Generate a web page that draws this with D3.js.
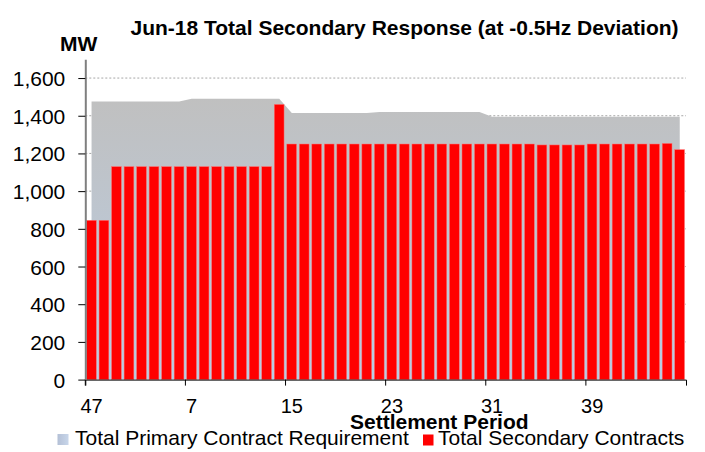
<!DOCTYPE html>
<html>
<head>
<meta charset="utf-8">
<script src="https://cdn.jsdelivr.net/npm/d3@7"></script>
<style>
  body { margin: 0; background: #fff; }
  text { font-family: "Liberation Sans", Arial, sans-serif; fill: #000; }
</style>
</head>
<body>
<div id="chart"></div>
<script>
// settlement periods shown (day starts at 47)
var periods = [47, 48, 1, 2, 3, 4, 5, 6, 7, 8, 9, 10, 11, 12, 13, 14, 15, 16, 17, 18, 19, 20,
  21, 22, 23, 24, 25, 26, 27, 28, 29, 30, 31, 32, 33, 34, 35, 36, 37, 38, 39, 40,
  41, 42, 43, 44, 45, 46];

// total primary contract requirement (MW)
var primaryReq = [1475, 1475, 1475, 1475, 1475, 1475, 1475, 1475, 1490, 1490, 1490, 1490,
  1490, 1490, 1490, 1490, 1415, 1415, 1415, 1415, 1415, 1415, 1415, 1420, 1420, 1420,
  1420, 1420, 1420, 1420, 1420, 1420, 1395, 1395, 1395, 1395, 1395, 1395, 1395, 1395,
  1395, 1395, 1395, 1395, 1395, 1395, 1395, 1395];

// total secondary contracts (MW)
var secondary = [845, 845, 1130, 1130, 1130, 1130, 1130, 1130, 1130, 1130, 1130, 1130,
  1130, 1130, 1130, 1460, 1250, 1250, 1250, 1250, 1250, 1250, 1250, 1250, 1250, 1250,
  1250, 1250, 1250, 1250, 1250, 1250, 1250, 1250, 1250, 1250, 1245, 1245, 1245, 1245,
  1250, 1250, 1250, 1250, 1250, 1250, 1253, 1220];

var xTickLabels = [47, 7, 15, 23, 31, 39];
var yTicks = [0, 200, 400, 600, 800, 1000, 1200, 1400, 1600];

var width = 705, height = 452;
var plot = { left: 85.3, right: 686, top: 59.2, bottom: 379.6 };

var data = periods.map(function (p, i) {
  return { period: p, req: primaryReq[i], sec: secondary[i] };
});

var svg = d3.select('#chart').append('svg')
  .attr('width', width)
  .attr('height', height);

var x = d3.scaleBand()
  .domain(periods)
  .range([plot.left, plot.right])
  .padding(0);

var y = d3.scaleLinear()
  .domain([0, 1700])
  .range([plot.bottom, plot.top]);

// gradient for the requirement area
var defs = svg.append('defs');
var grad = defs.append('linearGradient')
  .attr('id', 'areaGrad')
  .attr('gradientUnits', 'userSpaceOnUse')
  .attr('x1', 0).attr('x2', 0)
  .attr('y1', y(1490)).attr('y2', y(0));
grad.append('stop').attr('offset', '0%').attr('stop-color', '#c0c0c0');
grad.append('stop').attr('offset', '100%').attr('stop-color', '#b9cde5');

var legGrad = defs.append('linearGradient')
  .attr('id', 'legGrad')
  .attr('x1', 0).attr('x2', 1).attr('y1', 0).attr('y2', 0);
legGrad.append('stop').attr('offset', '0%').attr('stop-color', '#b4c0d6');
legGrad.append('stop').attr('offset', '100%').attr('stop-color', '#c8d6ea');

// gridlines
svg.append('g')
  .selectAll('line')
  .data(yTicks.slice(1))
  .enter().append('line')
  .attr('x1', plot.left)
  .attr('x2', plot.right)
  .attr('y1', function (d) { return y(d); })
  .attr('y2', function (d) { return y(d); })
  .style('stroke', '#a6a6a6')
  .style('stroke-width', 1)
  .style('stroke-dasharray', '2,2');

// requirement area
var area = d3.area()
  .x(function (d) { return x(d.period) + x.bandwidth() / 2; })
  .y0(y(0))
  .y1(function (d) { return y(d.req); });

svg.append('path')
  .datum(data)
  .attr('d', area)
  .style('fill', 'url(#areaGrad)');

// secondary bars
svg.append('g')
  .selectAll('rect')
  .data(data)
  .enter().append('rect')
  .attr('x', function (d) { return x(d.period) + x.bandwidth() * 0.1; })
  .attr('width', x.bandwidth() * 0.78)
  .attr('y', function (d) { return y(d.sec); })
  .attr('height', function (d) { return y(0) - y(d.sec); })
  .style('fill', '#ff0000')
  .style('stroke', '#ff7070')
  .style('stroke-width', 0.5);

// x axis
var xAxis = svg.append('g')
  .attr('transform', 'translate(0,' + plot.bottom + ')')
  .call(d3.axisBottom(x)
    .tickValues(xTickLabels)
    .tickSize(6)
    .tickSizeOuter(6)
    .tickPadding(13));
xAxis.selectAll('.tick line')
  .attr('x1', -x.step() / 2)
  .attr('x2', -x.step() / 2);
xAxis.selectAll('text')
  .style('font-size', '20px');
xAxis.select('.domain').style('stroke', '#000');

// y axis
var yAxis = svg.append('g')
  .attr('transform', 'translate(' + plot.left + ',0)')
  .call(d3.axisLeft(y)
    .tickValues(yTicks)
    .tickSize(7)
    .tickSizeOuter(0)
    .tickPadding(13)
    .tickFormat(d3.format(',')));
yAxis.selectAll('text')
  .style('font-size', '21px')
  .attr('dy', '0.36em');
yAxis.select('.domain')
  .style('stroke', '#7f7f7f')
  .style('stroke-width', 2);

// title
svg.append('text')
  .attr('x', 404.5)
  .attr('y', 35)
  .style('text-anchor', 'middle')
  .style('font-weight', 'bold')
  .style('font-size', '21px')
  .text('Jun-18 Total Secondary Response (at -0.5Hz Deviation)');

// y unit label
svg.append('text')
  .attr('x', 60)
  .attr('y', 50.7)
  .style('font-weight', 'bold')
  .style('font-size', '21px')
  .text('MW');

// x axis label
svg.append('text')
  .attr('x', 350)
  .attr('y', 428.5)
  .style('font-weight', 'bold')
  .style('font-size', '21px')
  .text('Settlement Period');

// legend
svg.append('rect')
  .attr('x', 57.5).attr('y', 434)
  .attr('width', 11).attr('height', 11)
  .style('fill', 'url(#legGrad)');
svg.append('text')
  .attr('x', 75)
  .attr('y', 445)
  .style('font-size', '21px')
  .text('Total Primary Contract Requirement');

svg.append('rect')
  .attr('x', 423).attr('y', 434.5)
  .attr('width', 10.5).attr('height', 11)
  .style('fill', '#ff0000');
svg.append('text')
  .attr('x', 438)
  .attr('y', 445)
  .style('font-size', '21px')
  .text('Total Secondary Contracts');
</script>
</body>
</html>
